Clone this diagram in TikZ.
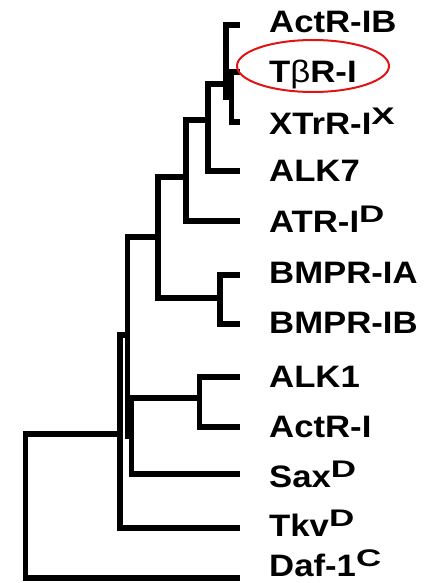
\documentclass[tikz,border=0pt]{standalone}
\usepackage{fontspec}
\setmainfont{Liberation Sans}
\usepackage{graphicx}

\newcommand{\gene}[1]{\scalebox{1.12}[1]{#1}}
\newcommand{\orig}[1]{\raisebox{10pt}{\fontsize{24}{24}\selectfont\scalebox{1.3}[1]{#1}}}

\begin{document}
\begin{tikzpicture}[x=1pt,y=-1pt,
    branch/.style={line width=5.5pt, line join=miter, line cap=butt},
    leaf/.style={anchor=base west, inner sep=0pt, font=\fontsize{31}{31}\selectfont\bfseries},
    ring/.style={draw={rgb,255:red,225;green,20;blue,20}, line width=2pt}]
        \useasboundingbox (0,0) rectangle (433,583);

          \foreach \n/\y/\b/\t in {actrib/25/33/ActR-IB, tbr/72/83/{T{\mdseries β}R-I},
              xtrr/122/135/XTrR-I\orig{X}, alk7/171/181/ALK7, atr/221/232/ATR-I\orig{D},
              bmpria/275/283/BMPR-IA, bmprib/324/333/BMPR-IB, alk1/377/387/ALK1,
              actri/427/437/ActR-I, sax/474/487/Sax\orig{D}, tkv/528/536/Tkv\orig{D},
              daf/578/576/Daf-1\orig{C}}{
            \coordinate (\n) at (240,\y);
            \node[leaf] (\n-txt) at (269,\b) {\gene{\t}};
          }

          \coordinate (n1) at (231.5,97);
          \coordinate (n2) at (226,84);
          \coordinate (n3) at (208,120);
          \coordinate (n4) at (186,177);
          \coordinate (n5) at (158,237);
          \coordinate (nb) at (220,298);
          \coordinate (na) at (199.5,398);
          \coordinate (ns) at (131.5,436);
          \coordinate (n6) at (127.5,335);
          \coordinate (n7) at (120,434);
          \coordinate (root) at (25.5,506);

          \foreach \p/\c in {n1/tbr, n1/xtrr, n2/actrib, n2/n1, n3/n2, n3/alk7,
              n4/n3, n4/atr, n5/n4, n5/nb, nb/bmpria, nb/bmprib, na/alk1, na/actri,
              ns/na, ns/sax, n6/n5, n6/ns, n7/n6, n7/tkv, root/n7, root/daf}{
            \draw[branch] (\p) |- (\c);
          }

          \draw[ring] (313,66) ellipse [x radius=76, y radius=26];
        \end{tikzpicture}
\end{document}
